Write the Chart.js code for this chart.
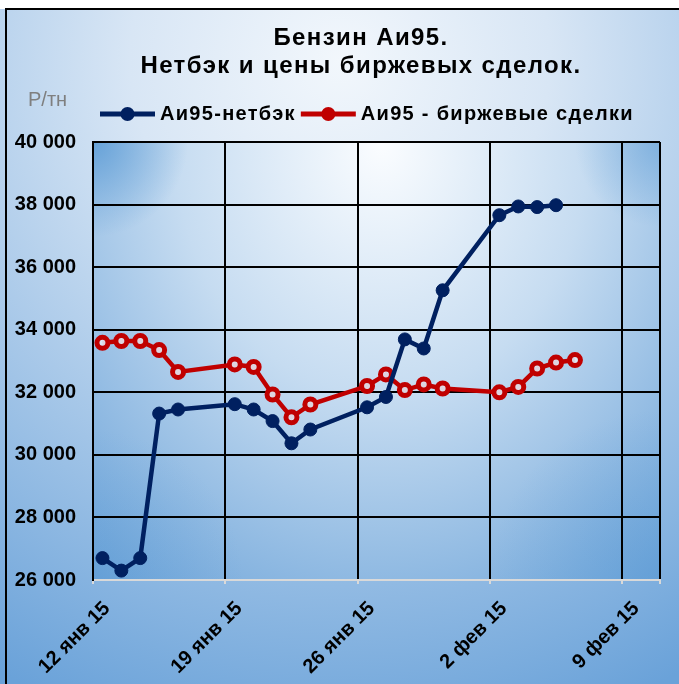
<!DOCTYPE html>
<html>
<head>
<meta charset="utf-8">
<script src="https://cdn.jsdelivr.net/npm/chart.js@4/dist/chart.umd.min.js"></script>
<style>
  body { margin: 0; background: #fff; }
  canvas { display: block; }
</style>
</head>
<body>
<canvas id="myChart" width="679" height="684"></canvas>
<script>
// данные
const titleLines = ["Бензин Аи95.", "Нетбэк и цены биржевых сделок."];
const unitLabel = "Р/тн";
const monthNames = ["янв", "фев", "мар", "апр", "май", "июн", "июл", "авг", "сен", "окт", "ноя", "дек"];

const netbackDates = ["2015-01-12", "2015-01-13", "2015-01-14", "2015-01-15", "2015-01-16",
    "2015-01-19", "2015-01-20", "2015-01-21", "2015-01-22", "2015-01-23",
    "2015-01-26", "2015-01-27", "2015-01-28", "2015-01-29", "2015-01-30",
    "2015-02-02", "2015-02-03", "2015-02-04", "2015-02-05"];
const netbackValues = [26700, 26300, 26700, 31320, 31450,
    31620, 31450, 31080, 30370, 30810,
    31520, 31850, 33690, 33400, 35260,
    37660, 37940, 37920, 37980];

const exchangeDates = ["2015-01-12", "2015-01-13", "2015-01-14", "2015-01-15", "2015-01-16",
    "2015-01-19", "2015-01-20", "2015-01-21", "2015-01-22", "2015-01-23",
    "2015-01-26", "2015-01-27", "2015-01-28", "2015-01-29", "2015-01-30",
    "2015-02-02", "2015-02-03", "2015-02-04", "2015-02-05", "2015-02-06"];
const exchangeValues = [33580, 33640, 33640, 33350, 32650,
    32890, 32810, 31930, 31200, 31610,
    32200, 32570, 32070, 32250, 32120,
    32000, 32170, 32760, 32950, 33030];

const xTickDates = ["2015-01-12", "2015-01-19", "2015-01-26", "2015-02-02", "2015-02-09"];
const axisStart = "2015-01-12";
const axisEnd = "2015-02-11";
const yMin = 26000, yMax = 40000, yStep = 2000;

const seriesNames = ["Аи95-нетбэк", "Аи95 - биржевые сделки"];
const seriesColors = ["#002060", "#C00000"];

const DAY = 86400000;
const t0 = Date.parse(axisStart);
function dayIndex(s) { return (Date.parse(s) - t0) / DAY; }
// точки в середине дня, как на оси дат в Excel
function toPoints(dates, values) {
    return dates.map((d, i) => ({ x: dayIndex(d) + 0.5, y: values[i] }));
}
function fmtDate(v) {
    const d = new Date(t0 + v * DAY);
    return d.getUTCDate() + " " + monthNames[d.getUTCMonth()] + " " + String(d.getUTCFullYear()).slice(2);
}
function fmtNum(v) {
    return String(v).replace(/\B(?=(\d{3})+(?!\d))/g, " ");
}

const FONT = "'Liberation Sans', Arial, sans-serif";

function cornerShade(ctx, x, y, r, col) {
    const g = ctx.createRadialGradient(x, y, 0, x, y, r);
    g.addColorStop(0, col);
    g.addColorStop(1, "rgba(91,155,213,0)");
    ctx.fillStyle = g;
    ctx.fillRect(x - r, y - r, 2 * r, 2 * r);
}

const decor = {
    id: "decor",
    beforeDraw(chart) {
        const ctx = chart.ctx, W = chart.width, H = chart.height, a = chart.chartArea;
        ctx.save();
        ctx.fillStyle = "#fff";
        ctx.fillRect(0, 0, W, H);
        // фон всей диаграммы
        let g = ctx.createRadialGradient(340, 60, 0, 340, 60, 700);
        g.addColorStop(0, "#f2f7fc");
        g.addColorStop(0.3, "#d8e6f5");
        g.addColorStop(1, "#6aa2d9");
        ctx.fillStyle = g;
        ctx.fillRect(0, 9, W, H - 9);
        ctx.strokeStyle = "#000";
        ctx.lineWidth = 2;
        ctx.beginPath();
        ctx.moveTo(6, H);
        ctx.lineTo(6, 9);
        ctx.lineTo(W, 9);
        ctx.stroke();
        // фон области построения
        const cx = (a.left + a.right) / 2 + 5, cy = a.top;
        ctx.save();
        ctx.beginPath();
        ctx.rect(a.left, a.top, a.right - a.left, a.bottom - a.top);
        ctx.clip();
        ctx.save();
        ctx.translate(cx, cy);
        ctx.scale(1, 1.22);
        g = ctx.createRadialGradient(0, 0, 0, 0, 0, 460);
        g.addColorStop(0, "#fbfdff");
        g.addColorStop(0.45, "#c6dcf1");
        g.addColorStop(1, "#6aa2d8");
        ctx.fillStyle = g;
        ctx.fillRect(-400, -10, 800, 500);
        ctx.restore();
        cornerShade(ctx, a.left, a.top, 95, "rgba(91,155,213,0.85)");
        cornerShade(ctx, a.right, a.top, 85, "rgba(91,155,213,0.55)");
        cornerShade(ctx, a.right, a.bottom, 170, "rgba(91,155,213,0.45)");
        cornerShade(ctx, a.left, a.bottom, 150, "rgba(91,155,213,0.35)");
        ctx.restore();
        ctx.restore();
    },
    afterDraw(chart) {
        const ctx = chart.ctx;
        ctx.save();
        ctx.textBaseline = "middle";
        ctx.fillStyle = "#000";
        ctx.textAlign = "center";
        ctx.font = "bold 24px " + FONT;
        ctx.letterSpacing = "1.4px";
        ctx.fillText(titleLines[0], 361, 38);
        ctx.fillText(titleLines[1], 361, 66);
        ctx.textAlign = "left";
        ctx.letterSpacing = "0px";
        ctx.fillStyle = "#7f7f7f";
        ctx.font = "20px " + FONT;
        ctx.fillText(unitLabel, 28, 100);
        // легенда
        ctx.font = "bold 20px " + FONT;
        ctx.letterSpacing = "1.3px";
        let x = 100;
        const y = 114;
        chart.data.datasets.forEach((ds) => {
            ctx.strokeStyle = ds.borderColor;
            ctx.lineWidth = 5;
            ctx.beginPath();
            ctx.moveTo(x, y);
            ctx.lineTo(x + 55, y);
            ctx.stroke();
            ctx.fillStyle = ds.borderColor;
            ctx.beginPath();
            ctx.arc(x + 27.5, y, 7, 0, Math.PI * 2);
            ctx.fill();
            ctx.fillStyle = "#000";
            ctx.fillText(ds.label, x + 60, y);
            x += 60 + ctx.measureText(ds.label).width + 5;
        });
        ctx.restore();
    }
};

new Chart(document.getElementById("myChart"), {
    type: "line",
    data: {
        datasets: [{
            label: seriesNames[0],
            data: toPoints(netbackDates, netbackValues),
            borderColor: seriesColors[0],
            backgroundColor: seriesColors[0],
            borderWidth: 4.5,
            pointRadius: 6.5,
            pointBorderWidth: 1,
            pointBackgroundColor: seriesColors[0],
            pointBorderColor: seriesColors[0],
            tension: 0
        }, {
            label: seriesNames[1],
            data: toPoints(exchangeDates, exchangeValues),
            borderColor: seriesColors[1],
            backgroundColor: seriesColors[1],
            borderWidth: 4.5,
            pointRadius: 5.5,
            pointBorderWidth: 5,
            pointBackgroundColor: "rgba(225,235,247,0.9)",
            pointBorderColor: seriesColors[1],
            tension: 0
        }]
    },
    options: {
        responsive: false,
        animation: false,
        layout: { padding: { top: 142, right: 19, left: 0, bottom: 0 } },
        plugins: {
            legend: { display: false },
            title: { display: false },
            tooltip: { enabled: false }
        },
        scales: {
            x: {
                type: "linear",
                min: dayIndex(axisStart),
                max: dayIndex(axisEnd),
                afterBuildTicks: (s) => {
                    s.ticks = xTickDates.map(d => ({ value: dayIndex(d) }))
                        .concat([{ value: dayIndex(axisEnd) }]);
                },
                afterFit: (s) => {
                    s.height = 104;
                    s.paddingRight = 0;
                },
                grid: {
                    color: "#000",
                    lineWidth: 2,
                    tickColor: "#d9d9d9",
                    tickLength: 4,
                    tickWidth: 2
                },
                border: { color: "#d9d9d9", width: 2 },
                ticks: {
                    autoSkip: false,
                    minRotation: 45,
                    maxRotation: 45,
                    labelOffset: 14,
                    padding: 13,
                    color: "#000",
                    font: { family: FONT, size: 20, weight: "bold" },
                    callback: (v) => v === dayIndex(axisEnd) ? "" : fmtDate(v)
                }
            },
            y: {
                min: yMin,
                max: yMax,
                afterFit: (s) => { s.width = 93; },
                grid: {
                    color: (c) => c.tick && c.tick.value === yMin ? "#d9d9d9" : "#000",
                    lineWidth: 2,
                    drawTicks: false
                },
                border: { color: "#000", width: 2 },
                ticks: {
                    stepSize: yStep,
                    padding: 17,
                    color: "#000",
                    font: { family: FONT, size: 20, weight: "bold" },
                    callback: (v) => fmtNum(v)
                }
            }
        }
    },
    plugins: [decor]
});
</script>
</body>
</html>
